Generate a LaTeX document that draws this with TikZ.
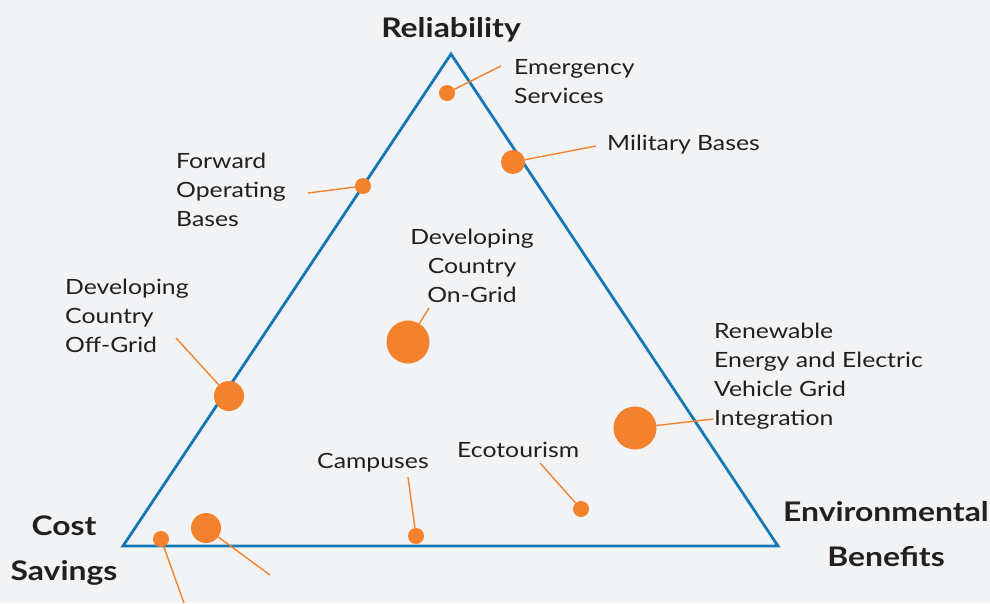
\documentclass[tikz,border=0pt]{standalone}
\usepackage{fontspec}
\setmainfont{Lato}[FakeStretch=1.18]
\definecolor{bgc}{HTML}{F2F3F5}
\definecolor{tri}{HTML}{1479B4}
\definecolor{dotc}{HTML}{F4822C}
\definecolor{txt}{HTML}{231F20}
\begin{document}
\begin{tikzpicture}[x=1pt,y=-1pt,
  dot/.style={circle,fill=dotc,inner sep=0pt,minimum size=#1},
  lbl/.style={inner sep=0pt,text=txt,font=\fontsize{21}{29}\selectfont,align=left},
  ttl/.style={inner sep=0pt,text=txt,font=\fontsize{27}{45}\selectfont\bfseries,align=center},
  lead/.style={draw=dotc,line width=1.4pt},
  edge/.style={draw=tri,line width=2.8pt,line join=miter}]
\fill[bgc] (0,0) rectangle (990,603);
\useasboundingbox (0,0) rectangle (990,603);
% triangle
\coordinate (A) at (451,54);
\coordinate (B) at (123,546);
\coordinate (C) at (778,546);
\draw[edge] (A) -- (B) -- (C) -- cycle;
% titles
\node[ttl] (rel) at (451,30) {Reliability};
\node[ttl] (cost) at (64,551) {Cost\\Savings};
\node[ttl] (env) at (886,534) {Environmental\\Benefits};
% labels
\node[lbl,anchor=west] (emer) at (514,82) {Emergency\\Services};
\node[lbl,anchor=west] (mil) at (607,145) {Military Bases};
\node[lbl,anchor=west] (fwd) at (176,190) {Forward\\Operating\\Bases};
\node[lbl,anchor=west] (off) at (65,316) {Developing\\Country\\Off-Grid};
\node[lbl,align=center] (on) at (472,266) {Developing\\Country\\On-Grid};
\node[lbl,anchor=west] (ren) at (714,376.5) {Renewable\\Energy and Electric\\Vehicle Grid\\Integration};
\node[lbl,anchor=west] (camp) at (317,463) {Campuses};
\node[lbl,anchor=west] (eco) at (457,450) {Ecotourism};
% leader ends
\coordinate (eE) at (501,66);
\coordinate (eM) at (596,146);
\coordinate (eF) at (308,193);
\coordinate (eOff) at (176,338);
\coordinate (eOn) at (429,308);
\coordinate (eR) at (713,419);
\coordinate (eCa) at (408,477);
\coordinate (eEc) at (540,463);
\coordinate (eS1) at (184,603);
\coordinate (eS2) at (270,575);
% dots
\node[dot=16pt] (dE) at (447,93) {};
\node[dot=24pt] (dM) at (513,162) {};
\node[dot=16pt] (dF) at (363,186) {};
\node[dot=30pt] (dOff) at (229,396) {};
\node[dot=43pt] (dOn) at (408,342) {};
\node[dot=43pt] (dR) at (635,428) {};
\node[dot=16pt] (dCa) at (416,536) {};
\node[dot=16pt] (dEc) at (581,509) {};
\node[dot=16pt] (dS1) at (161,539) {};
\node[dot=30pt] (dS2) at (206,528) {};
% leaders
\draw[lead] (dE) -- (eE);
\draw[lead] (dM) -- (eM);
\draw[lead] (dF) -- (eF);
\draw[lead] (dOff) -- (eOff);
\draw[lead] (dOn) -- (eOn);
\draw[lead] (dR) -- (eR);
\draw[lead] (dCa) -- (eCa);
\draw[lead] (dEc) -- (eEc);
\draw[lead] (dS1) -- (eS1);
\draw[lead] (dS2) -- (eS2);
\end{tikzpicture}
\end{document}
